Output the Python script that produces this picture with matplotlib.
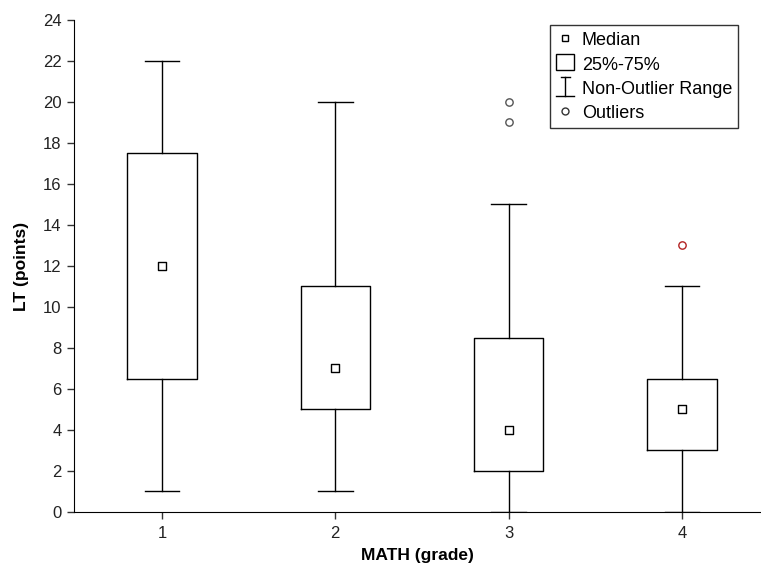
import matplotlib
matplotlib.use("Agg")
import matplotlib.pyplot as plt
from matplotlib.lines import Line2D
from matplotlib.patches import Rectangle
from matplotlib.legend_handler import HandlerBase

# data
grades = [1, 2, 3, 4]
medians = [12, 7, 4, 5]
q1 = [6.5, 5, 2, 3]
q3 = [17.5, 11, 8.5, 6.5]
whisk_lo = [1, 1, 0, 0]
whisk_hi = [22, 20, 15, 11]
outliers = [[], [], [19, 20], [13]]
outlier_colors = ["#555555", "#555555", "#555555", "#b22222"]

plt.rcParams["font.family"] = ["Liberation Sans", "DejaVu Sans"]


class BoxKey:
    pass


class RangeKey:
    pass


class HandlerBoxKey(HandlerBase):
    # big open square for the 25%-75% entry
    def create_artists(self, legend, orig_handle, xdescent, ydescent,
                       width, height, fontsize, trans):
        r = Rectangle((0, 0), width, height, facecolor="white",
                      edgecolor="black", lw=1, transform=trans)
        return [r]


class HandlerRange(HandlerBase):
    # I-beam for the non-outlier range
    def create_artists(self, legend, orig_handle, xdescent, ydescent,
                       width, height, fontsize, trans):
        cx = width / 2
        top = height * 1.1
        bot = -height * 0.15
        arts = [
            Line2D([cx, cx], [bot, top], color="black", lw=1),
            Line2D([cx - width * 0.25, cx + width * 0.25], [top, top], color="black", lw=1),
            Line2D([0, width], [bot, bot], color="black", lw=1),
        ]
        for a in arts:
            a.set_transform(trans)
        return arts


def main():
    fig = plt.figure(figsize=(7.61, 5.69), dpi=100)
    ax = fig.add_axes([0.0972, 0.1002, 0.9028, 0.8647])

    stats = []
    for i in range(len(grades)):
        stats.append(dict(med=medians[i], q1=q1[i], q3=q3[i],
                          whislo=whisk_lo[i], whishi=whisk_hi[i], fliers=[]))

    ax.bxp(stats, positions=grades, widths=0.4, capwidths=0.2,
           showfliers=False,
           boxprops=dict(color="black", lw=1),
           whiskerprops=dict(color="black", lw=1),
           capprops=dict(color="black", lw=1),
           medianprops=dict(visible=False))

    ax.scatter(grades, medians, marker="s", s=28, facecolor="white",
               edgecolor="black", linewidth=1, zorder=3)

    for g, pts, c in zip(grades, outliers, outlier_colors):
        if pts:
            ax.scatter([g] * len(pts), pts, marker="o", s=28, facecolor="white",
                       edgecolor=c, linewidth=1, zorder=3)

    ax.set_xlim(0.4928, 4.455)
    ax.set_ylim(0, 24)
    ax.set_yticks(range(0, 25, 2))
    ax.set_xticks(grades)
    ax.set_xticklabels([str(g) for g in grades])
    ax.spines["top"].set_visible(False)
    ax.spines["right"].set_visible(False)
    ax.tick_params(axis="both", labelsize=12, length=5, width=1, color="#333333",
                   labelcolor="#222222")
    ax.tick_params(axis="y", pad=4)
    ax.tick_params(axis="x", pad=5)

    ax.set_xlabel("MATH (grade)", fontsize=12.5, fontweight="bold", labelpad=5)
    ax.set_ylabel("LT (points)", fontsize=12.5, fontweight="bold", labelpad=10)

    handles = [
        Line2D([], [], marker="s", ls="none", ms=5, mfc="white", mec="black", mew=1),
        BoxKey(),
        RangeKey(),
        Line2D([], [], marker="o", ls="none", ms=5, mfc="white", mec="#333333", mew=1),
    ]
    labels = ["Median", "25%-75%", "Non-Outlier Range", "Outliers"]
    leg = ax.legend(handles, labels, loc="upper left", bbox_to_anchor=(0.693, 0.99),
                    fontsize=13, frameon=True, fancybox=False, edgecolor="black",
                    handlelength=1.0, handleheight=0.95, handletextpad=0.4,
                    labelspacing=0.35, borderpad=0.35, borderaxespad=0,
                    handler_map={BoxKey: HandlerBoxKey(), RangeKey: HandlerRange()})
    leg.get_frame().set_linewidth(1)

    fig.savefig("out.png", dpi=100)


if __name__ == "__main__":
    main()
